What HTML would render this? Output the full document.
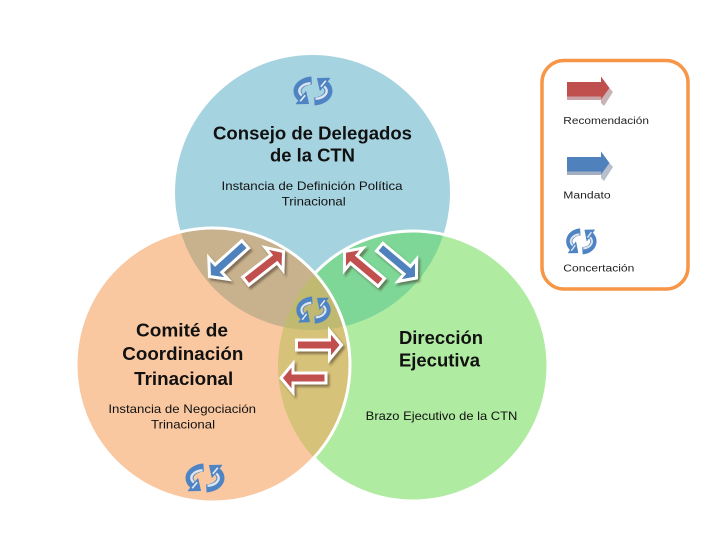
<!DOCTYPE html>
<html>
<head>
<meta charset="utf-8">
<style>
html,body{margin:0;padding:0;background:#fff;}
svg{display:block;}
text{font-family:"Liberation Sans",sans-serif;fill:#111;}
.h{font-weight:bold;font-size:18px;}
.s{font-size:12px;}
.l{font-size:10px;fill:#222;}
</style>
</head>
<body>
<svg width="724" height="549" viewBox="0 0 724 549" xmlns="http://www.w3.org/2000/svg">
<defs>
  <clipPath id="cT"><circle cx="312.5" cy="192.5" r="137.5"/></clipPath>
  <clipPath id="cL"><circle cx="213" cy="365" r="137"/></clipPath>
  <mask id="mNotL">
    <rect x="0" y="0" width="724" height="549" fill="#fff"/>
    <circle cx="213" cy="365" r="137" fill="#000"/>
  </mask>
  <filter id="sh" x="-40%" y="-40%" width="180%" height="180%">
    <feDropShadow dx="2" dy="2.5" stdDeviation="1" flood-color="#3a2a1a" flood-opacity="0.5"/>
  </filter>
  <polygon id="a48" points="0,-5 36,-5 36,-14.5 48,0 36,14.5 36,5 0,5"/>
  <polygon id="a45" points="0,-5 33,-5 33,-14.5 45,0 33,14.5 33,5 0,5"/>
  <g id="rot">
    <path d="M19.65,5.54 A15.5,10.5 0 0 0 9.13,22.75" fill="none" stroke="#4f84c4" stroke-width="8"/>
    <path d="M18.5,8.2 A13,7.8 0 0 0 9.8,20.5" fill="none" stroke="#dfe5ec" stroke-width="2.4"/>
    <polygon points="4.2,28.8 13.9,16.6 16.6,28.6" fill="#4f84c4" stroke="#4f84c4" stroke-width="0.8" stroke-linejoin="round"/>
    <polyline points="8.2,26.3 13.2,20.2" fill="none" stroke="#e9edf2" stroke-width="1.6"/>
  </g>
  <g id="icon">
    <use href="#rot"/>
    <use href="#rot" transform="rotate(180 21 16)"/>
  </g>
</defs>

<!-- base circles -->
<circle cx="312.5" cy="192.5" r="137.5" fill="#a6d3e0"/>
<circle cx="413" cy="366" r="135" fill="#afeba1"/>
<circle cx="213" cy="365" r="137" fill="#f9c8a0"/>

<!-- overlaps -->
<g clip-path="url(#cT)">
  <circle cx="213" cy="365" r="137" fill="#c8b28e"/>
  <circle cx="413" cy="366" r="135" fill="#7ed796"/>
</g>
<g clip-path="url(#cL)">
  <circle cx="413" cy="366" r="135" fill="#d6c279"/>
</g>
<g clip-path="url(#cT)">
  <g clip-path="url(#cL)">
    <circle cx="413" cy="366" r="135" fill="#c0b971"/>
  </g>
</g>

<!-- white separating arcs -->
<circle cx="413" cy="366" r="135" fill="none" stroke="#fff" stroke-width="3" mask="url(#mNotL)"/>
<circle cx="213" cy="365" r="137" fill="none" stroke="#fff" stroke-width="3"/>

<!-- arrows in overlaps -->
<g filter="url(#sh)" stroke="#fff" stroke-width="3" stroke-miterlimit="6">
  <use href="#a48" fill="#4f81bd" transform="translate(245.2,244.4) rotate(138)"/>
  <use href="#a48" fill="#c0504d" transform="translate(245.7,281.1) rotate(-38)"/>
  <use href="#a48" fill="#c0504d" transform="translate(381.3,282.4) rotate(-140)"/>
  <use href="#a48" fill="#4f81bd" transform="translate(379.7,247.1) rotate(40)"/>
  <use href="#a45" fill="#c0504d" transform="translate(296.5,345)"/>
  <use href="#a45" fill="#c0504d" transform="translate(326,378) rotate(180)"/>
</g>

<!-- concertation icons -->
<use href="#icon" transform="translate(292,75)"/>
<use href="#icon" transform="translate(184,462)"/>
<use href="#icon" transform="translate(295,295) scale(0.88,0.94)"/>

<!-- texts top -->
<text class="h" x="312.5" y="139.5" text-anchor="middle" textLength="199" lengthAdjust="spacingAndGlyphs">Consejo de Delegados</text>
<text class="h" x="312.5" y="161.5" text-anchor="middle" textLength="85" lengthAdjust="spacingAndGlyphs">de la CTN</text>
<text class="s" x="312" y="190" text-anchor="middle" textLength="181" lengthAdjust="spacingAndGlyphs">Instancia de Definición Política</text>
<text class="s" x="313.7" y="205.5" text-anchor="middle" textLength="64" lengthAdjust="spacingAndGlyphs">Trinacional</text>

<!-- texts left -->
<text class="h" x="182" y="336.5" text-anchor="middle" textLength="92" lengthAdjust="spacingAndGlyphs">Comité de</text>
<text class="h" x="182.8" y="360" text-anchor="middle" textLength="121" lengthAdjust="spacingAndGlyphs">Coordinación</text>
<text class="h" x="183.7" y="385" text-anchor="middle" textLength="99" lengthAdjust="spacingAndGlyphs">Trinacional</text>
<text class="s" x="182.2" y="413" text-anchor="middle" textLength="147.7" lengthAdjust="spacingAndGlyphs">Instancia de Negociación</text>
<text class="s" x="183" y="428.5" text-anchor="middle" textLength="64" lengthAdjust="spacingAndGlyphs">Trinacional</text>

<!-- texts right -->
<text class="h" x="399" y="344" textLength="84" lengthAdjust="spacingAndGlyphs">Dirección</text>
<text class="h" x="399" y="366.5" textLength="81" lengthAdjust="spacingAndGlyphs">Ejecutiva</text>
<text class="s" x="365.7" y="420" textLength="151.7" lengthAdjust="spacingAndGlyphs">Brazo Ejecutivo de la CTN</text>

<!-- legend -->
<rect x="542" y="60.5" width="146" height="228.5" rx="22" ry="22" fill="#fff" stroke="#f79646" stroke-width="3.5"/>
<g>
  <rect x="567" y="82" width="34" height="14.5" fill="#c0504d"/>
  <rect x="567" y="96.5" width="34" height="3.5" fill="#c9a3a6"/>
  <polygon points="601,99 609.5,88 613,92 604,106 601,103" fill="#c9b3b6"/>
  <polygon points="601,76.5 609.5,88 601,99.5" fill="#c0504d"/>
</g>
<g transform="translate(0,75)">
  <rect x="567" y="82" width="34" height="14.5" fill="#4f81bd"/>
  <rect x="567" y="96.5" width="34" height="3.5" fill="#a3aec0"/>
  <polygon points="601,99 609.5,88 613,92 604,106 601,103" fill="#b8bfcc"/>
  <polygon points="601,76.5 609.5,88 601,99.5" fill="#4f81bd"/>
</g>
<use href="#icon" transform="translate(565,227) scale(0.78,0.9)"/>

<text class="l" x="563.3" y="124" textLength="85.7" lengthAdjust="spacingAndGlyphs">Recomendación</text>
<text class="l" x="563.3" y="198.3" textLength="47.3" lengthAdjust="spacingAndGlyphs">Mandato</text>
<text class="l" x="563.3" y="271.7" textLength="71" lengthAdjust="spacingAndGlyphs">Concertación</text>
</svg>
</body>
</html>
